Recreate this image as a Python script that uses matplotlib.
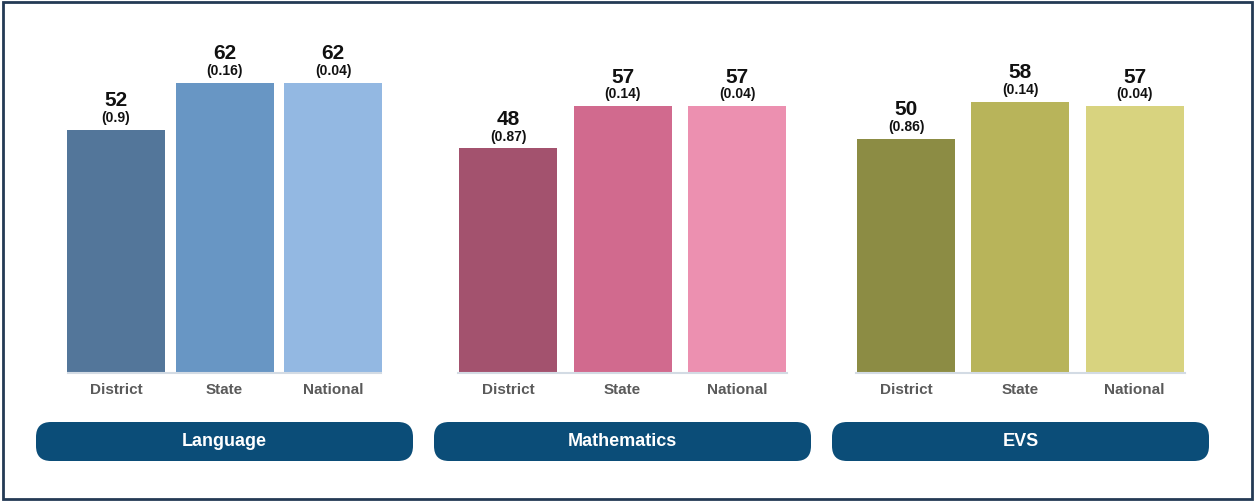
import matplotlib.pyplot as plt
from matplotlib.patches import FancyBboxPatch, Rectangle

# data
subjects = ['Language', 'Mathematics', 'EVS']
levels = ['District', 'State', 'National']
language_scores = [52, 62, 62]
language_se = ['0.9', '0.16', '0.04']
maths_scores = [48, 57, 57]
maths_se = ['0.87', '0.14', '0.04']
evs_scores = [50, 58, 57]
evs_se = ['0.86', '0.14', '0.04']

scores = [language_scores, maths_scores, evs_scores]
errors = [language_se, maths_se, evs_se]
colours = [
    ['#53769a', '#6896c4', '#93b8e2'],
    ['#a3526e', '#d16a8e', '#ec90b0'],
    ['#8c8c44', '#b8b45a', '#d8d37f'],
]

W, H = 1259, 504
fig = plt.figure(figsize=(W / 100, H / 100), dpi=100)
fig.patch.set_facecolor('white')

font = 'Liberation Sans'

# panel geometry in pixels: left edge, width (bars are 98 px wide)
panel_left = [61.75, 450.75, 848.9]
panel_width = [325.5, 343.5, 342.75]
pill_left = [36, 434, 832]
base_y = 373          # pixel row of the baseline
px_per_unit = 4.68

for i, subj in enumerate(subjects):
    ax = fig.add_axes([panel_left[i] / W, (H - base_y) / H, panel_width[i] / W, base_y / H])
    bw = 98 / (panel_width[i] / 3)
    ax.bar(range(3), scores[i], width=bw, color=colours[i], zorder=2)
    ax.set_xlim(-0.5, 2.5)
    ax.set_ylim(0, base_y / px_per_unit)
    for s in ['top', 'right', 'left']:
        ax.spines[s].set_visible(False)
    ax.spines['bottom'].set_color('#d3dbe4')
    ax.spines['bottom'].set_linewidth(1.5)
    ax.spines['bottom'].set_bounds(-0.5 + 0.06, 2.5 - 0.06)
    ax.set_yticks([])
    ax.set_xticks(range(3))
    ax.set_xticklabels(levels, family=font, fontweight='bold', fontsize=11, color='#5a5a5a')
    ax.tick_params(axis='x', length=0, pad=7)
    ax.patch.set_alpha(0)
    for j, v in enumerate(scores[i]):
        ax.annotate(str(v), (j, v), xytext=(0, 21), textcoords='offset points',
                    ha='center', va='center', family=font, fontweight='bold',
                    fontsize=15, color='#111111', annotation_clip=False)
        ax.annotate('(' + errors[i][j] + ')', (j, v), xytext=(0, 8.5), textcoords='offset points',
                    ha='center', va='center', family=font, fontweight='bold',
                    fontsize=10, color='#111111', annotation_clip=False)

# overlay in pixel units for the subject pills and the frame
ov = fig.add_axes([0, 0, 1, 1])
ov.set_xlim(0, W)
ov.set_ylim(H, 0)
ov.axis('off')
ov.patch.set_alpha(0)

for i, subj in enumerate(subjects):
    pill = FancyBboxPatch((pill_left[i], 422), 377, 39,
                          boxstyle='round,pad=0,rounding_size=15',
                          facecolor='#0b4d78', edgecolor='none')
    ov.add_patch(pill)
    ov.text(pill_left[i] + 377 / 2, 441.5, subj, ha='center', va='center',
            family=font, fontweight='bold', fontsize=13, color='white')

ov.add_patch(Rectangle((3, 2), 1249, 497, facecolor='none', edgecolor='#243a55', linewidth=2))

fig.savefig('out.png', dpi=100)
